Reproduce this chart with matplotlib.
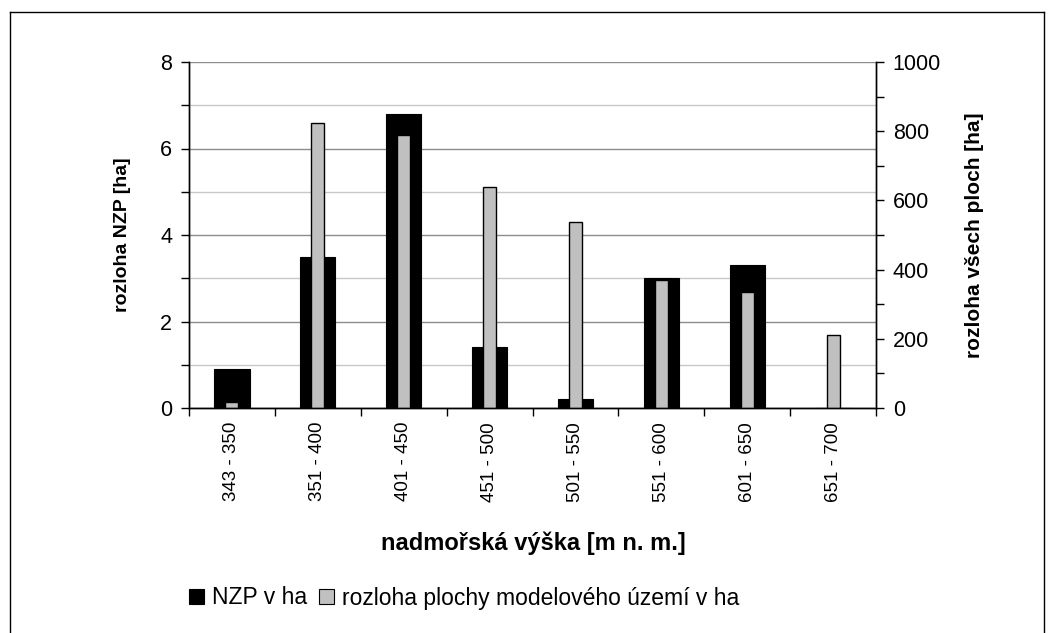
import matplotlib
matplotlib.use("Agg")
import matplotlib.pyplot as plt
from matplotlib.lines import Line2D
from matplotlib.ticker import MultipleLocator, NullFormatter, FixedLocator
import numpy as np

plt.rcParams["font.family"] = ["Liberation Sans", "DejaVu Sans"]

categories = ["343 - 350", "351 - 400", "401 - 450", "451 - 500",
              "501 - 550", "551 - 600", "601 - 650", "651 - 700"]
nzp_ha = [0.9, 3.5, 6.8, 1.4, 0.2, 3.0, 3.3, 0.0]
area_ha = [17, 825, 790, 640, 538, 370, 335, 210]

series_labels = ["NZP v ha", "rozloha plochy modelového území v ha"]
left_label = "rozloha NZP [ha]"
right_label = "rozloha všech ploch [ha]"
x_label = "nadmořská výška [m n. m.]"

tick_size = 15.5
cat_size = 13.5

fig = plt.figure(figsize=(10.55, 6.33), dpi=100)
ax = fig.add_axes([189 / 1055, 1 - 408 / 633, (876 - 189) / 1055, (408 - 62) / 633])
ax2 = ax.twinx()

x = np.arange(len(categories))
ax.bar(x, nzp_ha, width=0.41, color="black", edgecolor="black", linewidth=0.8, zorder=2)
ax2.bar(x, area_ha, width=0.15, color="#c0c0c0", edgecolor="black", linewidth=1.0, zorder=2)

# left axis
ax.set_xlim(-0.5, len(categories) - 0.5)
ax.set_ylim(0, 8)
ax.yaxis.set_major_locator(MultipleLocator(2))
ax.yaxis.set_minor_locator(MultipleLocator(1))
ax.grid(which="major", axis="y", color="#8c8c8c", linewidth=1.0, zorder=0)
ax.grid(which="minor", axis="y", color="#c8c8c8", linewidth=1.0, zorder=0)
ax.set_axisbelow(True)
ax.tick_params(axis="y", which="major", direction="out", length=6, width=1, labelsize=tick_size, pad=6)
ax.tick_params(axis="y", which="minor", direction="out", length=6, width=1)

# right axis
ax2.set_ylim(0, 1000)
ax2.yaxis.set_major_locator(MultipleLocator(200))
ax2.yaxis.set_minor_locator(MultipleLocator(100))
ax2.tick_params(axis="y", which="major", direction="out", length=6, width=1, labelsize=tick_size, pad=6)
ax2.tick_params(axis="y", which="minor", direction="out", length=6, width=1)

# category axis: ticks on boundaries, labels at centres
ax.xaxis.set_major_locator(FixedLocator(np.arange(-0.5, len(categories), 1.0)))
ax.xaxis.set_major_formatter(NullFormatter())
ax.xaxis.set_minor_locator(FixedLocator(x))
ax.set_xticklabels(categories, minor=True, rotation=90, fontsize=cat_size)
ax.tick_params(axis="x", which="major", direction="out", length=6, width=1)
ax.tick_params(axis="x", which="minor", length=0, pad=10)

for a in (ax, ax2):
    a.spines["top"].set_visible(False)
    for s in ("left", "right", "bottom"):
        a.spines[s].set_color("black")
        a.spines[s].set_linewidth(1.0)

ax.set_ylabel(left_label, fontsize=14, fontweight="bold", labelpad=21)
ax2.set_ylabel(right_label, fontsize=15, fontweight="bold", labelpad=17)
fig.text(533 / 1055, 1 - 543 / 633, x_label, fontsize=17, fontweight="bold",
         ha="center", va="center")

handles = [plt.Rectangle((0, 0), 1, 1, facecolor="black", edgecolor="black", linewidth=0.8),
           plt.Rectangle((0, 0), 1, 1, facecolor="#c0c0c0", edgecolor="black", linewidth=0.8)]
fig.legend(handles, series_labels, loc="center", bbox_to_anchor=(464 / 1055, 1 - 598 / 633),
           ncol=2, frameon=False, fontsize=16.5, handlelength=0.65, handleheight=0.65,
           handletextpad=0.35, columnspacing=0.5, borderaxespad=0)

# outer frame
fx0, fx1, fy1 = 10 / 1055, 1044 / 1055, 1 - 12 / 633
for xs, ys in (([fx0, fx0], [0, fy1]), ([fx0, fx1], [fy1, fy1]), ([fx1, fx1], [fy1, 0])):
    fig.add_artist(Line2D(xs, ys, transform=fig.transFigure, color="black", linewidth=1.0))

fig.savefig("out.png", dpi=100)
